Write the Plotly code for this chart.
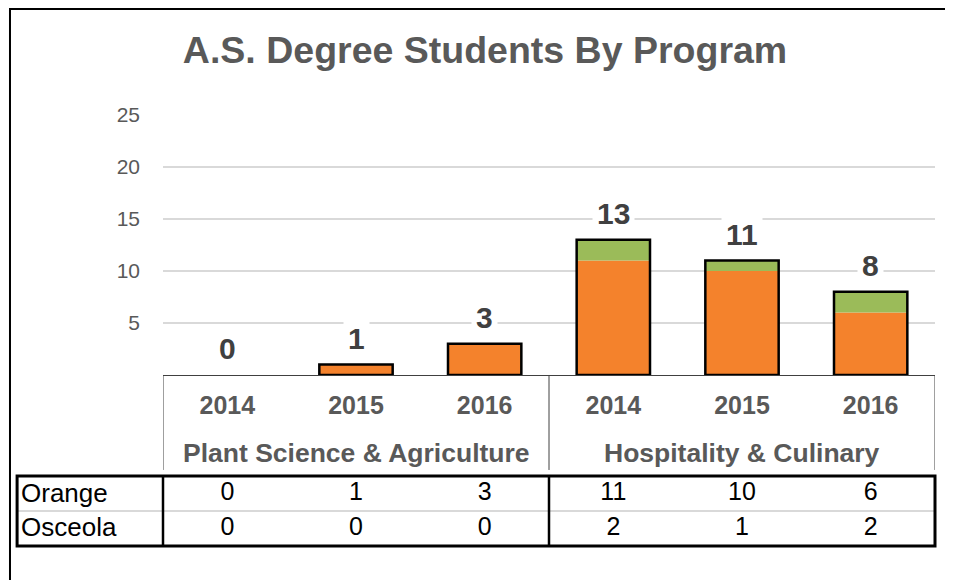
import plotly.graph_objects as go

# ---- data ----
programs = ["Plant Science & Agriculture"] * 3 + ["Hospitality & Culinary"] * 3
years = ["2014", "2015", "2016", "2014", "2015", "2016"]
orange = [0, 1, 3, 11, 10, 6]
osceola = [0, 0, 0, 2, 1, 2]
totals = [a + b for a, b in zip(orange, osceola)]
y_ticks = [5, 10, 15, 20, 25]
row_names = ["Orange", "Osceola"]
title_text = "A.S. Degree Students By Program"

FONT = "Liberation Sans, Arial, sans-serif"
ORANGE = "#F4822C"
GREEN = "#9BBB59"
GRAY = "#595959"

idx = list(range(len(years)))
group_names = list(dict.fromkeys(programs))
group_centers = [sum(i for i in idx if programs[i] == g) / programs.count(g) for g in group_names]
boundaries = [-0.5] + [i + 0.5 for i in idx[:-1] if programs[i] != programs[i + 1]] + [len(idx) - 0.5]

BAR_W = 0.57

fig = go.Figure()
fig.add_trace(go.Bar(x=idx, y=orange, name="Orange", width=BAR_W,
                     marker=dict(color=ORANGE, line=dict(width=0)), hoverinfo="y"))
fig.add_trace(go.Bar(x=idx, y=osceola, base=orange, name="Osceola", width=BAR_W,
                     marker=dict(color=GREEN, line=dict(width=0)), hoverinfo="y"))
fig.add_trace(go.Bar(x=idx, y=[t if t > 0 else None for t in totals], name="Total", width=BAR_W,
                     marker=dict(color="rgba(0,0,0,0)", line=dict(color="black", width=2.5)),
                     hoverinfo="skip"))

# data table values
for name, vals in zip(row_names, [orange, osceola]):
    fig.add_trace(go.Scatter(x=idx, y=[name] * len(vals), text=[str(v) for v in vals],
                             mode="text", yaxis="y2", hoverinfo="skip", textposition="middle center",
                             textfont=dict(family=FONT, size=25, color="black")))

annotations = []
for i, t in zip(idx, totals):
    annotations.append(dict(x=i, y=t, xref="x", yref="y", text=str(t), showarrow=False,
                            yanchor="bottom", yshift=5, bgcolor="white", borderpad=4,
                            font=dict(family=FONT, size=30, color="#404040", weight="bold")))
for name in row_names:
    annotations.append(dict(x=-0.1865, y=name, xref="x domain", yref="y2", text=name,
                            showarrow=False, xanchor="left", yshift=1,
                            font=dict(family=FONT, size=26, color="black")))
for g, c in zip(group_names, group_centers):
    annotations.append(dict(x=c, y=0.223, xref="x", yref="paper", text=g, showarrow=False,
                            yanchor="middle",
                            font=dict(family=FONT, size=26.5, color=GRAY, weight="bold")))

shapes = [
    # outer chart border (top / left visible)
    dict(type="rect", xref="paper", yref="paper", x0=-0.1982, x1=1.04, y0=-0.1, y1=1.2437,
         line=dict(color="black", width=2), layer="below"),
    # table box
    dict(type="rect", xref="x domain", yref="y2 domain", x0=-0.189, x1=1.0, y0=0, y1=1,
         line=dict(color="black", width=3)),
    dict(type="line", xref="x domain", yref="y2 domain", x0=-0.189, x1=1.0, y0=0.5, y1=0.5,
         line=dict(color="#D9D9D9", width=2), layer="below"),
    dict(type="line", xref="x domain", yref="y2 domain", x0=0, x1=0, y0=0, y1=1,
         line=dict(color="black", width=2.5)),
    dict(type="line", xref="x domain", yref="y2 domain", x0=0.5, x1=0.5, y0=0, y1=1,
         line=dict(color="black", width=2.5)),
]
# category group dividers
for b in boundaries:
    shapes.append(dict(type="line", xref="x", yref="paper", x0=b, x1=b, y0=0.4023, y1=0.184,
                       line=dict(color="#404040", width=1)))

fig.update_layout(
    width=945, height=572,
    margin=dict(l=155, r=18, t=107, b=30),
    paper_bgcolor="white", plot_bgcolor="white",
    barmode="overlay",
    showlegend=False,
    title=dict(text=title_text, xref="container", x=0.5048, xanchor="center",
               yref="container", y=0.9266, yanchor="middle",
               font=dict(family=FONT, size=37.5, color=GRAY, weight="bold")),
    xaxis=dict(range=[-0.5, len(idx) - 0.5], tickvals=idx, ticktext=years, anchor="y",
               showline=True, linecolor="#404040", linewidth=1,
               tickfont=dict(family=FONT, size=25, color=GRAY, weight="bold"),
               showgrid=False, zeroline=False, ticks="", ticklabelstandoff=8, fixedrange=True),
    yaxis=dict(domain=[0.4023, 1.0], range=[0, 25], tickvals=y_ticks, showgrid=True,
               gridcolor="#D9D9D9", gridwidth=1.5, zeroline=False, showline=False,
               tickfont=dict(family=FONT, size=21, color=GRAY), ticklabelstandoff=22),
    yaxis2=dict(domain=[0.0092, 0.1701], type="category", categoryorder="array",
                categoryarray=["Osceola", "Orange"], range=[-0.5, 1.5], anchor="x",
                showgrid=False, showticklabels=False, zeroline=False, showline=False),
    annotations=annotations,
    shapes=shapes,
)

fig.write_html("out.html")
